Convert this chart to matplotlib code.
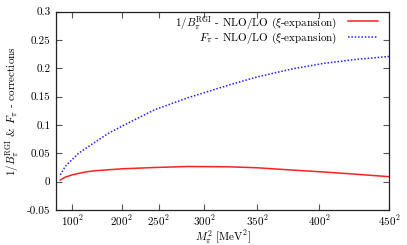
import matplotlib
matplotlib.use("Agg")
import matplotlib.pyplot as plt
import numpy as np

# Data (pion mass in MeV; plotted against M^2)
m_pi = [51, 75, 99, 117, 133, 151, 178, 202, 245, 283, 325, 350, 379, 404, 428, 450]
b_corr = [0.003, 0.008, 0.012, 0.0145, 0.017, 0.019, 0.021, 0.0228, 0.025, 0.0268,
          0.0262, 0.0245, 0.0205, 0.017, 0.013, 0.0088]
f_corr = [0.012, 0.027, 0.039, 0.050, 0.058, 0.068, 0.085, 0.099, 0.127, 0.148,
          0.171, 0.185, 0.199, 0.209, 0.216, 0.221]

xtick_m = [100, 200, 250, 300, 350, 400, 450]
yticks = [-0.05, 0, 0.05, 0.1, 0.15, 0.2, 0.25, 0.3]
ytick_labels = ["-0.05", "0", "0.05", "0.1", "0.15", "0.2", "0.25", "0.3"]

label_b = r"$1/B_\pi^{\rm RGI}$ - NLO/LO ($\xi$-expansion)"
label_f = r"$F_\pi$ - NLO/LO ($\xi$-expansion)"

plt.rcParams["font.family"] = ["cmr10", "DejaVu Serif"]
plt.rcParams["mathtext.fontset"] = "cm"
plt.rcParams["axes.unicode_minus"] = False

fig = plt.figure(figsize=(4.07, 2.45), dpi=100)
ax = fig.add_axes([56/407, 1 - 210/245, (389-56)/407, (210-11.7)/245])

x = np.array(m_pi, dtype=float) ** 2
ax.plot(x, b_corr, color="#ff2020", lw=1.1, label=label_b)
ax.plot(x, f_corr, color="#2020ff", lw=1.1, ls=(0, (1, 1.2)), label=label_f)

ax.set_xlim(0, 450**2)
ax.set_ylim(-0.05, 0.3)
ax.set_xticks([m**2 for m in xtick_m])
ax.set_xticklabels([r"$%d^2$" % m for m in xtick_m], fontsize=8)
ax.set_yticks(yticks)
ax.set_yticklabels(ytick_labels, fontsize=8)
ax.tick_params(direction="in", length=4, width=0.8, color="#555555",
               top=True, right=True, pad=4)
ax.tick_params(axis="x", pad=2.5)
for s in ax.spines.values():
    s.set_linewidth(0.9)
    s.set_color("#222222")

ax.set_xlabel(r"$M_\pi^2$ [MeV$^2$]", fontsize=8, labelpad=0.5)
ax.set_ylabel(r"$1/B_\pi^{\rm RGI}$ & $F_\pi$ - corrections", fontsize=8, labelpad=4)

leg = ax.legend(loc="upper right", frameon=False, fontsize=8, markerfirst=False,
                handlelength=2.7, handletextpad=1.0, labelspacing=0.0,
                borderpad=0.0, borderaxespad=0.0,
                bbox_to_anchor=(322/333, 1 - 2/199))
for t in leg.get_texts():
    t.set_ha("right")
leg._legend_box.align = "right"

fig.savefig("out.png", dpi=100)
